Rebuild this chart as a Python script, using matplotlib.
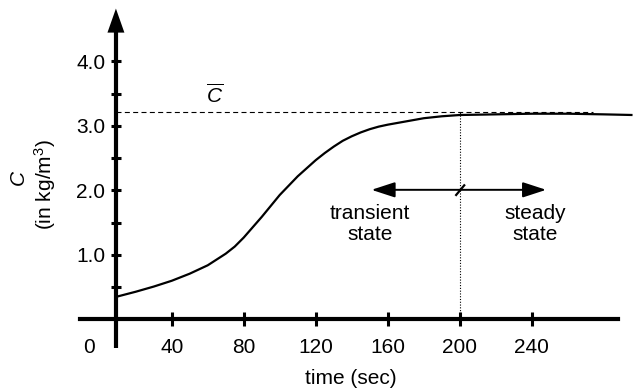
import matplotlib
matplotlib.use("Agg")
import matplotlib.pyplot as plt
from matplotlib.ticker import FixedLocator

plt.rcParams['font.family'] = ['Liberation Sans', 'DejaVu Sans']
plt.rcParams['mathtext.fontset'] = 'custom'
plt.rcParams['mathtext.rm'] = 'Liberation Sans'
plt.rcParams['mathtext.it'] = 'Liberation Sans:italic'

# ---- data ----
time = [9, 20, 30, 40, 50, 60, 70, 75, 80, 90, 100, 110, 120, 125, 130, 135,
        140, 145, 150, 155, 160, 170, 180, 190, 200, 220, 240, 260, 280, 296]
conc = [0.35, 0.43, 0.51, 0.60, 0.71, 0.84, 1.02, 1.13, 1.27, 1.59, 1.93, 2.22,
        2.47, 2.58, 2.68, 2.77, 2.84, 2.90, 2.95, 2.99, 3.02, 3.07, 3.12, 3.15,
        3.17, 3.18, 3.19, 3.19, 3.18, 3.17]
c_bar = 3.21
steady_time = 200
xtick_pos = [-6, 40, 80, 120, 160, 200, 240]
xtick_labels = ['0', '40', '80', '120', '160', '200', '240']
ytick_pos = [1, 2, 3, 4]
ytick_labels = ['1.0', '2.0', '3.0', '4.0']
yminor_pos = [0.5, 1.5, 2.5, 3.5]

fig = plt.figure(figsize=(6.41, 3.91), dpi=100)
ax = fig.add_axes([0, 0, 1, 1])
ax.set_xlim(-55.4, 300.7)
ax.set_ylim(-1.109, 4.953)
ax.patch.set_alpha(0)

FS = 15

# spines as axes
for s in ['top', 'right']:
    ax.spines[s].set_visible(False)
ax.spines['left'].set_position(('data', 9))
ax.spines['bottom'].set_position(('data', 0))
ax.spines['left'].set_linewidth(3)
ax.spines['bottom'].set_linewidth(3)
ax.spines['left'].set_bounds(-0.44, 4.46)
ax.spines['bottom'].set_bounds(-11, 288)
ax.spines['left'].set_capstyle('butt')

# arrowheads
ax.annotate('', xy=(9, 4.82), xytext=(9, 4.3),
            arrowprops=dict(arrowstyle='-|>,head_length=1.73,head_width=0.61',
                            mutation_scale=10, lw=0, fc='black', ec='black',
                            shrinkA=0, shrinkB=0))
ax.annotate('', xy=(301, 0), xytext=(280, 0),
            arrowprops=dict(arrowstyle='-|>,head_length=1.6,head_width=0.6',
                            mutation_scale=10, lw=0, fc='black', ec='black',
                            shrinkA=0, shrinkB=0))

# ticks
ax.set_xticks(xtick_pos)
ax.set_xticklabels(xtick_labels)
ax.set_yticks(ytick_pos)
ax.set_yticklabels(ytick_labels)
ax.yaxis.set_minor_locator(FixedLocator(yminor_pos))
ax.tick_params(axis='x', direction='inout', length=9.4, width=2.2, pad=9.0,
               labelsize=FS)
ax.tick_params(axis='y', which='both', direction='inout', length=6.5, width=2.2,
               pad=4.5, labelsize=FS)
ax.xaxis.get_major_ticks()[0].tick1line.set_visible(False)

# curve
ax.plot(time, conc, color='black', lw=1.6, solid_capstyle='butt',
        solid_joinstyle='round')

# dashed mean line
ax.plot([9, 274], [c_bar, c_bar], color='black', lw=0.8,
        linestyle=(0, (4.5, 3)))
ax.text(64, 3.48, r'$\overline{C}$', fontsize=FS, ha='center', va='center')

# dotted vertical at steady time
ax.vlines(steady_time, 0, c_bar, colors='black', lw=0.8,
          linestyles=(0, (1, 1.5)))

# double arrow
arrow_kw = dict(arrowstyle='-|>,head_length=1.44,head_width=0.47',
                mutation_scale=10, lw=1.4, fc='black', ec='black',
                shrinkA=0, shrinkB=0)
ax.annotate('', xy=(151, 2.01), xytext=(steady_time, 2.01), arrowprops=arrow_kw)
ax.annotate('', xy=(248, 2.01), xytext=(steady_time, 2.01), arrowprops=arrow_kw)
ax.plot([198, 202.5], [1.93, 2.08], color='black', lw=1.6)

ax.text(150, 1.48, 'transient\nstate', fontsize=FS, ha='center', va='center',
        linespacing=1.15)
ax.text(242, 1.48, 'steady\nstate', fontsize=FS, ha='center', va='center',
        linespacing=1.15)

# axis labels
ax.text(-44.5, 2.19, r'$C$', fontsize=FS, rotation=90, ha='center', va='center')
ax.text(-30.5, 2.085, r'(in kg/m$^3$)', fontsize=FS, rotation=90,
        ha='center', va='center')
ax.set_xlabel('time (sec)', fontsize=FS, va='center')
ax.xaxis.set_label_coords(351 / 641, (391 - 379) / 391)

fig.savefig('out.png', dpi=100)
